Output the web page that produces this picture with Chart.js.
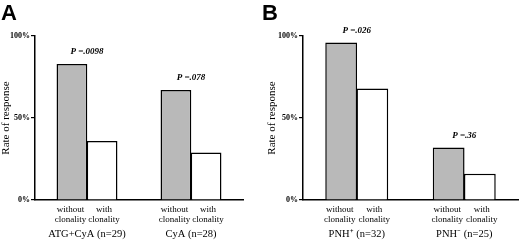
<!DOCTYPE html>
<html>
<head>
<meta charset="utf-8">
<script src="https://cdn.jsdelivr.net/npm/chart.js@4.4.1/dist/chart.umd.min.js"></script>
<style>
  html, body { margin: 0; padding: 0; background: #fff; }
  #wrap { position: relative; width: 520px; height: 251px; overflow: hidden; }
  .panel { position: absolute; top: 0; width: 260px; height: 251px; }
  .letter { position: absolute; top: 0; font: bold 22px "Liberation Sans", Arial, sans-serif; color: #000; }
</style>
</head>
<body>
<div id="wrap">
  <div class="panel" style="left:0"><canvas id="chartA" width="260" height="251"></canvas></div>
  <div class="panel" style="left:260px"><canvas id="chartB" width="260" height="251"></canvas></div>
  <div class="letter" style="left:1px">A</div>
  <div class="letter" style="left:262px">B</div>
</div>
<script>
// Response rate by clonality, two panels
const groupsA = ['ATG+CyA (n=29)', 'CyA (n=28)'];
const withoutA = [83, 67];
const withA = [36, 29];
const pValuesA = ['P =.0098', 'P =.078'];

const groupsB = ['PNH\u207A (n=32)', 'PNH\u207B (n=25)'];
const withoutB = [96, 32];
const withB = [68, 16];
const pValuesB = ['P =.026', 'P =.36'];

const subLabels = [['without', 'clonality'], ['with', 'clonality']];
const yTickValues = [0, 50, 100];

const SERIF = '"Liberation Serif", "Times New Roman", serif';

// draws sub-labels under each bar and P values above each pair
const annotate = {
    id: 'annotate',
    afterDraw(chart, args, opts) {
        const ctx = chart.ctx;
        const bottom = chart.chartArea.bottom;
        const m0 = chart.getDatasetMeta(0).data;
        const m1 = chart.getDatasetMeta(1).data;
        ctx.save();
        ctx.fillStyle = '#000';
        ctx.textAlign = 'center';
        ctx.textBaseline = 'middle';
        ctx.font = '9px ' + SERIF;
        [m0, m1].forEach((bars, di) => {
            const shift = di === 0 ? -1.5 : 2;
            bars.forEach(b => {
                ctx.fillText(subLabels[di][0], b.x + shift, bottom + 10);
                ctx.fillText(subLabels[di][1], b.x + shift, bottom + 20);
            });
        });
        ctx.font = 'italic bold 9px ' + SERIF;
        opts.p.forEach((txt, i) => {
            const top = Math.min(m0[i].y, m1[i].y);
            ctx.fillText(txt, (m0[i].x + m1[i].x) / 2, top - 12);
        });
        ctx.restore();
    }
};

function build(id, groups, without, withC, pvals, padLeft, leftW, padRight) {
    return new Chart(document.getElementById(id), {
        type: 'bar',
        data: {
            labels: groups,
            datasets: [
                { label: 'without clonality', data: without, backgroundColor: '#b9b9b9', borderColor: '#000', borderWidth: 1.5 },
                { label: 'with clonality', data: withC, backgroundColor: '#fff', borderColor: '#000', borderWidth: 1.5 }
            ]
        },
        options: {
            responsive: false, animation: false,
            layout: { padding: { top: 36, right: padRight, left: padLeft, bottom: 0 } },
            categoryPercentage: 0.58, barPercentage: 1.02,
            plugins: { legend: { display: false }, tooltip: { enabled: false }, annotate: { p: pvals } },
            scales: {
                x: {
                    grid: { display: false },
                    border: { color: '#000', width: 1.5 },
                    ticks: { color: '#000', font: { family: SERIF, size: 10.5 }, padding: 20, maxRotation: 0 },
                    afterFit: s => { s.height = 51; }
                },
                y: {
                    min: 0, max: 100,
                    afterBuildTicks: s => { s.ticks = yTickValues.map(v => ({ value: v })); },
                    grid: { drawOnChartArea: false, drawTicks: true, tickLength: 4, color: '#000', lineWidth: 1.2 },
                    border: { color: '#000', width: 1.5 },
                    ticks: { color: '#000', font: { family: SERIF, size: 8, weight: 'bold' }, padding: 1, callback: v => v + '%' },
                    title: { display: true, text: 'Rate of response', color: '#000', font: { family: SERIF, size: 11 }, padding: 0 },
                    afterFit: s => { s.width = leftW; }
                }
            }
        },
        plugins: [annotate]
    });
}

build('chartA', groupsA, withoutA, withA, pValuesA, 0, 35, 17);
build('chartB', groupsB, withoutB, withB, pValuesB, 6, 37, 2);
</script>
</body>
</html>
